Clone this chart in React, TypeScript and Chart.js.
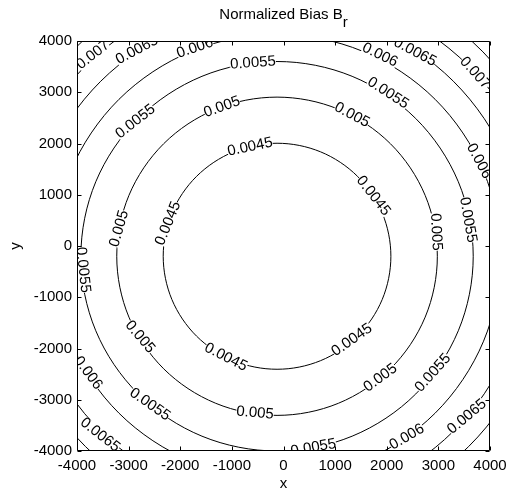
import React, { useEffect, useRef } from "react";
import { Chart, registerables } from "chart.js";

Chart.register(...registerables);

const FONT = '"Liberation Sans", Arial, Helvetica, sans-serif';

const titleMain = "Normalized Bias B";
const titleSub = "r";
const xTitle = "x";
const yTitle = "y";

const xTicks = [-4000, -3000, -2000, -1000, 0, 1000, 2000, 3000, 4000];
const yTicks = [-4000, -3000, -2000, -1000, 0, 1000, 2000, 3000, 4000];

type P = [number, number];

// closed contour vertices (x, y); first and last entries
// only overlap the loop so the smoothed curve closes cleanly (they are not drawn)
const c0045: P[] = [
  [719, 1837],
  [-125, 2005], [-969, 1837], [-1684, 1359], [-2162, 644], [-2330, -200], [-2162, -1044],
  [-1684, -1759], [-969, -2237], [-125, -2405], [719, -2237], [1434, -1759], [1912, -1044],
  [2080, -200], [1912, 644], [1434, 1359], [719, 1837], [-125, 2005], [-969, 1837],
];
const c0050: P[] = [
  [1063, 2669],
  [-125, 2905], [-1313, 2669], [-2321, 1996], [-2994, 988], [-3230, -200], [-2994, -1388],
  [-2321, -2396], [-1313, -3069], [-125, -3305], [1063, -3069], [2071, -2396], [2744, -1388],
  [2980, -200], [2744, 988], [2071, 1996], [1063, 2669], [-125, 2905], [-1313, 2669],
];
const c0055: P[] = [
  [1329, 3311],
  [-125, 3600], [-1579, 3311], [-2812, 2487], [-3636, 1254], [-3925, -200], [-3636, -1654],
  [-2812, -2887], [-1579, -3711], [-125, -4000], [1329, -3711], [2562, -2887], [3386, -1654],
  [3675, -200], [3386, 1254], [2562, 2487], [1329, 3311], [-125, 3600], [-1579, 3311],
];
const c0060: P[] = [
  [1532, 3800],
  [-125, 4130], [-1782, 3800], [-3187, 2862], [-4125, 1457], [-4455, -200], [-4125, -1857],
  [-3187, -3262], [-1782, -4200], [-125, -4530], [1532, -4200], [2937, -3262], [3875, -1857],
  [4205, -200], [3875, 1457], [2937, 2862], [1532, 3800], [-125, 4130], [-1782, 3800],
];
const c0065: P[] = [
  [1723, 4262],
  [-125, 4630], [-1973, 4262], [-3540, 3215], [-4587, 1648], [-4955, -200], [-4587, -2048],
  [-3540, -3615], [-1973, -4662], [-125, -5030], [1723, -4662], [3290, -3615], [4337, -2048],
  [4705, -200], [4337, 1648], [3290, 3215], [1723, 4262], [-125, 4630], [-1973, 4262],
];
const c0070: P[] = [
  [1884, 4650],
  [-125, 5050], [-2134, 4650], [-3837, 3512], [-4975, 1809], [-5375, -200], [-4975, -2209],
  [-3837, -3912], [-2134, -5050], [-125, -5450], [1884, -5050], [3587, -3912], [4725, -2209],
  [5125, -200], [4725, 1809], [3587, 3512], [1884, 4650], [-125, 5050], [-2134, 4650],
];
const c0075: P[] = [
  [2033, 5011],
  [-125, 5440], [-2283, 5011], [-4113, 3788], [-5336, 1958], [-5765, -200], [-5336, -2358],
  [-4113, -4188], [-2283, -5440], [-125, -5840], [2033, -5440], [3863, -4188], [5011, -2358],
  [5440, -200], [5011, 1958], [3863, 3788], [2033, 5011], [-125, 5440], [-2283, 5011],
];

const levels = ["0.0045", "0.005", "0.0055", "0.006", "0.0065", "0.007", "0.0075"];
const contourPoints = [c0045, c0050, c0055, c0060, c0065, c0070, c0075];

// contour labels: text, position (data units), rotation (deg, clockwise)
const labelText = [
  "0.007", "0.0065", "0.006", "0.0055", "0.0055", "0.005", "0.0045", "0.005", "0.0045",
  "0.006", "0.0065", "0.007", "0.0055", "0.005", "0.006", "0.0045", "0.0055", "0.005",
  "0.0055", "0.005", "0.0045", "0.006", "0.0055", "0.005", "0.0065",
  "0.0045", "0.005", "0.0055", "0.0065", "0.006", "0.0055",
];
const labelX = [
  -3690, -2838, -1714, -591, -2868, -1191, -649, -3183, -2235,
  1869, 2547, 3709, 2024, 1327, 3787, 1740, 3574, 2954,
  -3884, -2780, -1117, -3787, -2588, -552, -3554,
  1327, 1877, 2896, 3554, 2392, 581,
];
const labelY = [
  3727, 3824, 3863, 3571, 2429, 2712, 1932, 338, 439,
  3727, 3785, 3376, 2985, 2556, 1657, 978, 508, 274,
  -468, -1775, -2170, -2477, -3092, -3258, -3687,
  -1833, -2572, -2477, -3330, -3726, -3934,
];
const labelAngle = [
  -38, -28, -19, -4, -38, -20, -12, -74, -68,
  26, 28, 48, 33, 28, 62, 52, 80, 87,
  84, 50, 27, 53, 35, 5, 38,
  -35, -36, -48, -40, -30, -10,
];

export default function App() {
  const ref = useRef<HTMLCanvasElement>(null);

  useEffect(() => {
    const canvas = ref.current;
    if (!canvas) return;

    const overlay = {
      id: "overlay",
      afterDatasetsDraw(chart: any) {
        const { ctx, chartArea: a, scales } = chart;
        const xs = scales.x;
        const ys = scales.y;

        // contour labels
        ctx.save();
        ctx.beginPath();
        ctx.rect(a.left, a.top, a.right - a.left, a.bottom - a.top);
        ctx.clip();
        ctx.font = `15px ${FONT}`;
        ctx.textAlign = "center";
        ctx.textBaseline = "middle";
        for (let i = 0; i < labelText.length; i++) {
          const px = xs.getPixelForValue(labelX[i]);
          const py = ys.getPixelForValue(labelY[i]);
          ctx.save();
          ctx.translate(px, py);
          ctx.rotate((labelAngle[i] * Math.PI) / 180);
          const w = ctx.measureText(labelText[i]).width;
          ctx.fillStyle = "#fff";
          ctx.fillRect(-w / 2, -6, w, 12);
          ctx.fillStyle = "#000";
          ctx.fillText(labelText[i], 0, 0);
          ctx.restore();
        }
        ctx.restore();

        // axes box and inward ticks
        ctx.save();
        ctx.strokeStyle = "#000";
        ctx.lineWidth = 1;
        const L = Math.round(a.left) + 0.5;
        const R = Math.round(a.right) - 0.5;
        const T = Math.round(a.top) + 0.5;
        const B = Math.round(a.bottom) - 0.5;
        ctx.beginPath();
        ctx.rect(L, T, R - L, B - T);
        ctx.stroke();
        const tl = 4;
        ctx.beginPath();
        for (const v of xTicks) {
          const px = Math.round(xs.getPixelForValue(v)) + 0.5;
          ctx.moveTo(px, B);
          ctx.lineTo(px, B - tl);
          ctx.moveTo(px, T);
          ctx.lineTo(px, T + tl);
        }
        for (const v of yTicks) {
          const py = Math.round(ys.getPixelForValue(v)) + 0.5;
          ctx.moveTo(L, py);
          ctx.lineTo(L + tl, py);
          ctx.moveTo(R, py);
          ctx.lineTo(R - tl, py);
        }
        ctx.stroke();

        // title with subscript
        ctx.fillStyle = "#000";
        ctx.font = `15px ${FONT}`;
        ctx.textAlign = "left";
        ctx.textBaseline = "alphabetic";
        const w1 = ctx.measureText(titleMain).width;
        const w2 = ctx.measureText(titleSub).width;
        const cx = (a.left + a.right) / 2;
        const sx = cx - (w1 + w2) / 2;
        ctx.fillText(titleMain, sx, 19);
        ctx.fillText(titleSub, sx + w1, 27);
        ctx.restore();
      },
    };

    const tickFont = { family: FONT, size: 15 };

    const chart = new Chart(canvas, {
      type: "scatter",
      data: {
        datasets: contourPoints.map((pts, i) => ({
          label: levels[i],
          data: pts.map(([x, y]) => ({ x, y })),
          showLine: true,
          borderColor: "#000",
          borderWidth: 1,
          pointRadius: 0,
          pointHoverRadius: 0,
          tension: 0.34,
          fill: false,
          segment: {
            borderColor: (c: any) =>
              c.p0DataIndex === 0 || c.p1DataIndex === pts.length - 1 ? "rgba(0,0,0,0)" : undefined,
          },
        })),
      },
      options: {
        responsive: false,
        animation: false,
        devicePixelRatio: 1,
        events: [],
        layout: { padding: { top: 41, right: 16, left: 0, bottom: 0 } },
        elements: { line: { capBezierPoints: false } },
        plugins: {
          legend: { display: false },
          tooltip: { enabled: false },
          title: { display: false },
        },
        scales: {
          x: {
            type: "linear",
            min: -4000,
            max: 4000,
            afterBuildTicks: (s: any) => {
              s.ticks = xTicks.map((v) => ({ value: v }));
            },
            ticks: {
              color: "#000",
              font: tickFont,
              padding: 6,
              maxRotation: 0,
              autoSkip: false,
              callback: (v: any) => String(v),
            },
            grid: { display: false, drawTicks: false },
            border: { display: false },
            title: {
              display: true,
              text: xTitle,
              color: "#000",
              font: tickFont,
              padding: { top: 0, bottom: -1 },
            },
            afterFit: (s: any) => {
              s.height = 41;
              s.paddingLeft = 0;
              s.paddingRight = 0;
            },
          },
          y: {
            type: "linear",
            min: -4000,
            max: 4000,
            afterBuildTicks: (s: any) => {
              s.ticks = yTicks.map((v) => ({ value: v }));
            },
            ticks: {
              color: "#000",
              font: tickFont,
              padding: 5,
              autoSkip: false,
              callback: (v: any) => String(v),
            },
            grid: { display: false, drawTicks: false },
            border: { display: false },
            title: {
              display: true,
              text: yTitle,
              color: "#000",
              font: tickFont,
              padding: { top: 7, bottom: 0 },
            },
            afterFit: (s: any) => {
              s.width = 77;
              s.paddingTop = 0;
              s.paddingBottom = 0;
            },
          },
        },
      },
      plugins: [overlay],
    } as any);

    return () => chart.destroy();
  }, []);

  return (
    <div style={{ position: "absolute", left: 0, top: 0, width: 506, height: 492, background: "#fff" }}>
      <canvas ref={ref} width={506} height={492} style={{ width: 506, height: 492, display: "block" }} />
    </div>
  );
}
